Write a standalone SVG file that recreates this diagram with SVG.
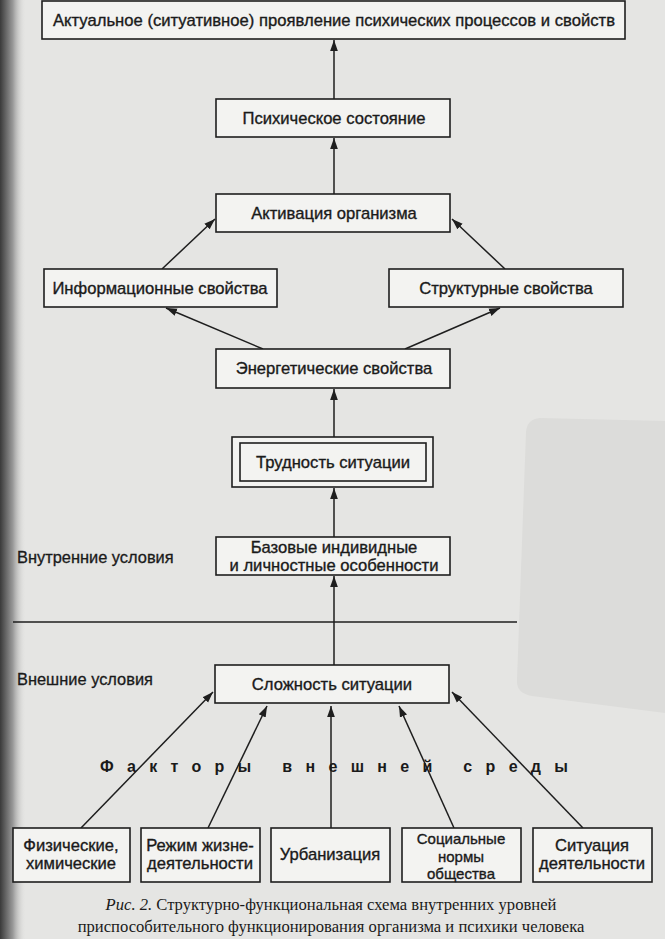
<svg xmlns="http://www.w3.org/2000/svg" width="665" height="939" viewBox="0 0 665 939">
<defs>
<linearGradient id="edge" x1="0" y1="0" x2="1" y2="0">
<stop offset="0" stop-color="#3a3a3a"/>
<stop offset="0.5" stop-color="#9a9a9a"/>
<stop offset="1" stop-color="#e4e4e2" stop-opacity="0"/>
</linearGradient>
<marker id="ah" viewBox="0 0 10 10" refX="10" refY="5" markerWidth="11" markerHeight="11" orient="auto" markerUnits="userSpaceOnUse">
<path d="M0,1.5 L10,5 L0,8.5 Z" fill="#1e1e1e"/>
</marker>
<style>
.box{fill:#f3f3f1;stroke:#1e1e1e;stroke-width:1.6}
.t{font-family:"Liberation Sans",Arial,sans-serif;font-size:16.6px;fill:#1a1a1a;stroke:#1a1a1a;stroke-width:0.35;text-anchor:middle}
.s{font-size:15px}
.lbl{font-family:"Liberation Sans",Arial,sans-serif;font-size:16.4px;fill:#1a1a1a;stroke:#1a1a1a;stroke-width:0.3}
.c{stroke:#1e1e1e;stroke-width:1.5;fill:none;marker-end:url(#ah)}
.ln{stroke:#1e1e1e;stroke-width:1.3;fill:none}
.cap{font-family:"Liberation Serif","Times New Roman",serif;font-size:16.6px;fill:#1a1a1a;text-anchor:middle}
</style>
</defs>
<rect x="0" y="0" width="665" height="939" fill="#e5e5e3"/>
<path d="M526,432 Q527,419 540,418 L665,421 L665,713 L532,696 Q516,693 517,680 Z" fill="#dcdcda"/>
<rect x="0" y="0" width="26" height="939" fill="url(#edge)"/>

<g id="connectors">
<line class="c" x1="334" y1="99" x2="334" y2="40"/>
<line class="c" x1="334" y1="194" x2="334" y2="138"/>
<line class="c" x1="162" y1="269" x2="215" y2="219"/>
<line class="c" x1="505" y1="269" x2="452" y2="219"/>
<line class="c" x1="263" y1="349" x2="166" y2="308"/>
<line class="c" x1="405" y1="349" x2="500" y2="308"/>
<line class="c" x1="334" y1="437" x2="334" y2="389"/>
<line class="c" x1="334" y1="537" x2="334" y2="488"/>
<line class="c" x1="334" y1="665" x2="334" y2="576"/>
<line class="c" x1="81" y1="828" x2="213" y2="692"/>
<line class="c" x1="208" y1="828" x2="267" y2="706"/>
<line class="c" x1="331" y1="828" x2="331" y2="706"/>
<line class="c" x1="454" y1="828" x2="399" y2="706"/>
<line class="c" x1="583" y1="828" x2="452" y2="692"/>
<line class="ln" x1="13" y1="622" x2="517" y2="622"/>
</g>

<g id="n-actual">
<rect class="box" x="42" y="1" width="583" height="38"/>
<text class="t" x="334" y="26" textLength="562" lengthAdjust="spacingAndGlyphs">Актуальное (ситуативное) проявление психических процессов и свойств</text>
</g>
<g id="n-psych">
<rect class="box" x="216" y="99" width="234" height="38"/>
<text class="t" x="334" y="124">Психическое состояние</text>
</g>
<g id="n-activ">
<rect class="box" x="216" y="194" width="234" height="38"/>
<text class="t" x="334" y="219">Активация организма</text>
</g>
<g id="n-info">
<rect class="box" x="44" y="269" width="233" height="38"/>
<text class="t" x="160" y="294">Информационные свойства</text>
</g>
<g id="n-struct">
<rect class="box" x="389" y="269" width="234" height="38"/>
<text class="t" x="506" y="294">Структурные свойства</text>
</g>
<g id="n-energy">
<rect class="box" x="216" y="349" width="234" height="39"/>
<text class="t" x="334" y="374">Энергетические свойства</text>
</g>
<g id="n-difficulty">
<rect class="box" x="232" y="437" width="201" height="50"/>
<rect class="box" x="240" y="443" width="186" height="38"/>
<text class="t" x="333" y="468">Трудность ситуации</text>
</g>
<g id="n-base">
<rect class="box" x="216" y="537" width="234" height="38"/>
<text class="t" x="334" y="553">Базовые индивидные</text>
<text class="t" x="334" y="571">и личностные особенности</text>
</g>
<g id="n-complex">
<rect class="box" x="215" y="665" width="234" height="38"/>
<text class="t" x="332" y="690">Сложность ситуации</text>
</g>

<g id="labels">
<text class="lbl" x="17" y="563">Внутренние условия</text>
<text class="lbl" x="17" y="685">Внешние условия</text>
<text x="100" y="772" font-family="'Liberation Sans',Arial,sans-serif" font-size="16" font-weight="bold" fill="#1a1a1a" textLength="468" lengthAdjust="spacing">Факторы внешней среды</text>
</g>

<g id="n-f1">
<rect class="box" x="13" y="828" width="117" height="54"/>
<text class="t" x="71" y="851">Физические,</text>
<text class="t" x="71" y="869">химические</text>
</g>
<g id="n-f2">
<rect class="box" x="141" y="828" width="119" height="54"/>
<text class="t" x="200" y="851">Режим жизне-</text>
<text class="t" x="200" y="869">деятельности</text>
</g>
<g id="n-f3">
<rect class="box" x="271" y="828" width="119" height="54"/>
<text class="t" x="330" y="860">Урбанизация</text>
</g>
<g id="n-f4">
<rect class="box" x="402" y="828" width="119" height="54"/>
<text class="t s" x="461" y="844">Социальные</text>
<text class="t s" x="461" y="861.5">нормы</text>
<text class="t s" x="461" y="879">общества</text>
</g>
<g id="n-f5">
<rect class="box" x="533" y="828" width="119" height="54"/>
<text class="t" x="592" y="851">Ситуация</text>
<text class="t" x="592" y="869">деятельности</text>
</g>

<g id="caption">
<text class="cap" x="331" y="910"><tspan font-style="italic">Рис. 2.</tspan> Структурно-функциональная схема внутренних уровней</text>
<text class="cap" x="331" y="932">приспособительного функционирования организма и психики человека</text>
</g>
</svg>
